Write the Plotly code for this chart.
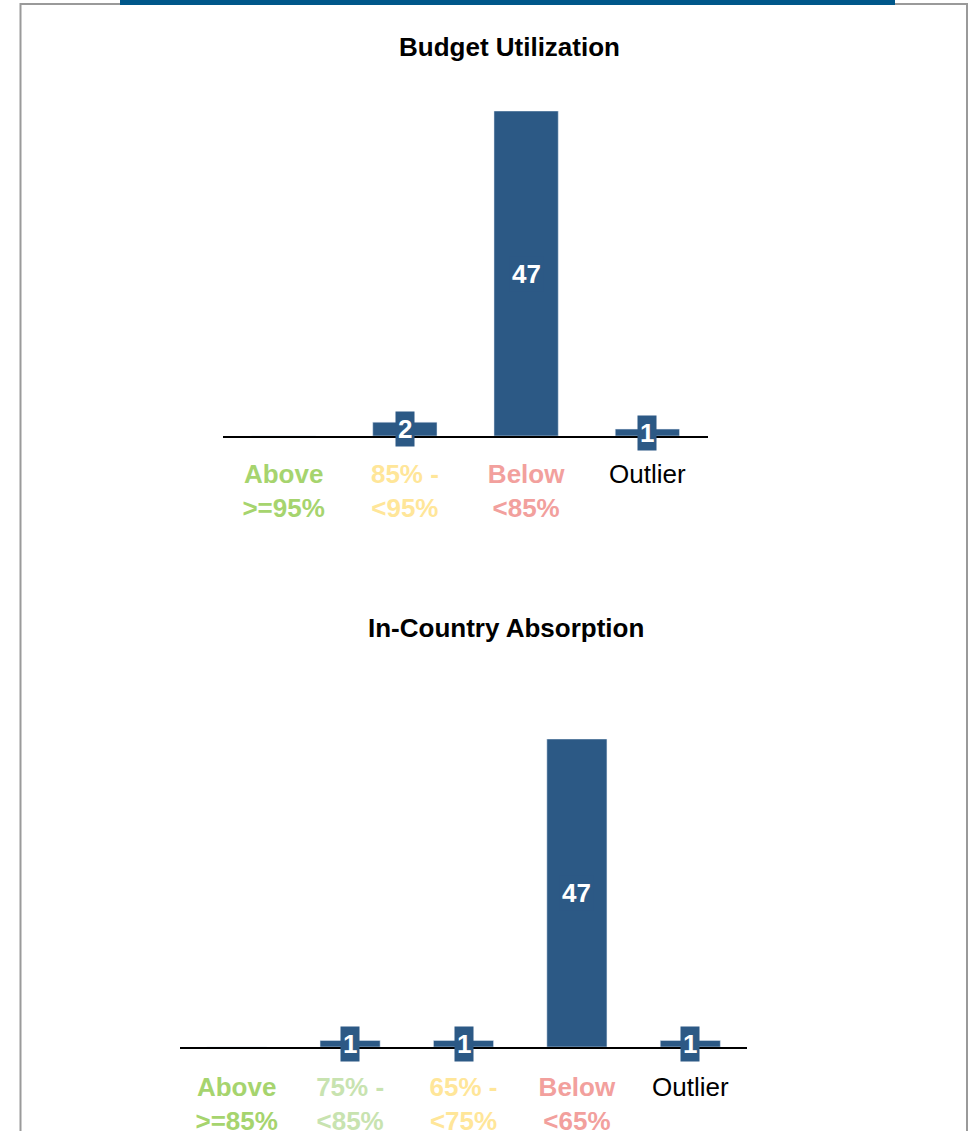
import plotly.graph_objects as go

# ---- data ----
cats_top = ["Above >=95%", "85% - <95%", "Below <85%", "Outlier"]
vals_top = [0, 2, 47, 1]
tick_lines_top = [("Above", "&gt;=95%"), ("85% -", "&lt;95%"), ("Below", "&lt;85%"), ("Outlier", "")]
tick_colors_top = ["#A6D46E", "#FFE699", "#F2A09D", "#000000"]
tick_bold_top = [True, True, True, False]

cats_bot = ["Above >=85%", "75% - <85%", "65% - <75%", "Below <65%", "Outlier"]
vals_bot = [0, 1, 1, 47, 1]
tick_lines_bot = [("Above", "&gt;=85%"), ("75% -", "&lt;85%"), ("65% -", "&lt;75%"), ("Below", "&lt;65%"), ("Outlier", "")]
tick_colors_bot = ["#A6D46E", "#C8E3B0", "#FFE699", "#F2A09D", "#000000"]
tick_bold_bot = [True, True, True, True, False]

title_top = "Budget Utilization"
title_bot = "In-Country Absorption"

BAR = "#2C5985"
FONT = "Liberation Sans, Arial, sans-serif"
W, H = 979, 1131


def ticktext(lines, colors, bold):
    out = []
    for (a, b), c, bd in zip(lines, colors, bold):
        t = a + ("<br>" + b if b else "<br> ")
        if bd:
            t = "<b>" + a + "</b>" + ("<br><b>" + b + "</b>" if b else "<br> ")
        out.append(f"<span style='color:{c}'>{t}</span>")
    return out


fig = go.Figure()
fig.add_trace(go.Bar(x=cats_top, y=vals_top, marker_color=BAR, width=0.53,
                     xaxis="x", yaxis="y", hoverinfo="skip"))
fig.add_trace(go.Bar(x=cats_bot, y=vals_bot, marker_color=BAR, width=0.53,
                     xaxis="x2", yaxis="y2", hoverinfo="skip"))

annotations = []
for cats, vals, xr, yr in [(cats_top, vals_top, "x", "y"), (cats_bot, vals_bot, "x2", "y2")]:
    for c, v in zip(cats, vals):
        if v > 0:
            annotations.append(dict(x=c, y=v / 2, xref=xr, yref=yr, text=f"<b>{v}</b>",
                                    showarrow=False, bgcolor=BAR, borderpad=2,
                                    font=dict(color="white", size=26, family=FONT)))

annotations.append(dict(x=509 / W, y=1 - 47 / H, xref="paper", yref="paper", text=f"<b>{title_top}</b>",
                        xanchor="center", yanchor="middle",
                        showarrow=False, font=dict(size=26, color="#000", family=FONT)))
annotations.append(dict(x=506 / W, y=1 - 628 / H, xref="paper", yref="paper", text=f"<b>{title_bot}</b>",
                        xanchor="center", yanchor="middle",
                        showarrow=False, font=dict(size=26, color="#000", family=FONT)))

axis_common = dict(showgrid=False, zeroline=False, showline=True, linecolor="black", linewidth=1.5,
                   ticks="outside", tickcolor="rgba(0,0,0,0)", automargin=False,
                   tickfont=dict(size=26, family=FONT), fixedrange=True)

fig.update_layout(
    width=W, height=H, margin=dict(l=0, r=0, t=0, b=0, autoexpand=False),
    paper_bgcolor="white", plot_bgcolor="white", showlegend=False,
    font=dict(family=FONT),
    xaxis=dict(domain=[223 / W, 708 / W], anchor="y", categoryorder="array", categoryarray=cats_top,
               ticklen=14,
               tickvals=cats_top, ticktext=ticktext(tick_lines_top, tick_colors_top, tick_bold_top), **axis_common),
    yaxis=dict(domain=[1 - 436 / H, 1 - 111 / H], anchor="x", range=[0, 47], visible=False),
    xaxis2=dict(domain=[180 / W, 747 / W], anchor="y2", categoryorder="array", categoryarray=cats_bot,
                ticklen=16,
                tickvals=cats_bot, ticktext=ticktext(tick_lines_bot, tick_colors_bot, tick_bold_bot), **axis_common),
    yaxis2=dict(domain=[1 - 1047 / H, 1 - 739 / H], anchor="x2", range=[0, 47], visible=False),
    annotations=annotations,
    shapes=[
        dict(type="rect", xref="paper", yref="paper", x0=20.5 / W, x1=967 / W, y0=-0.05, y1=1 - 4 / H,
             line=dict(color="#9a9a9a", width=2), fillcolor="rgba(0,0,0,0)", layer="below"),
        dict(type="rect", xref="paper", yref="paper", x0=120 / W, x1=895 / W, y0=1 - 5 / H, y1=1.01,
             line=dict(width=0), fillcolor="#00578A"),
    ],
)

fig.write_html("out.html")
